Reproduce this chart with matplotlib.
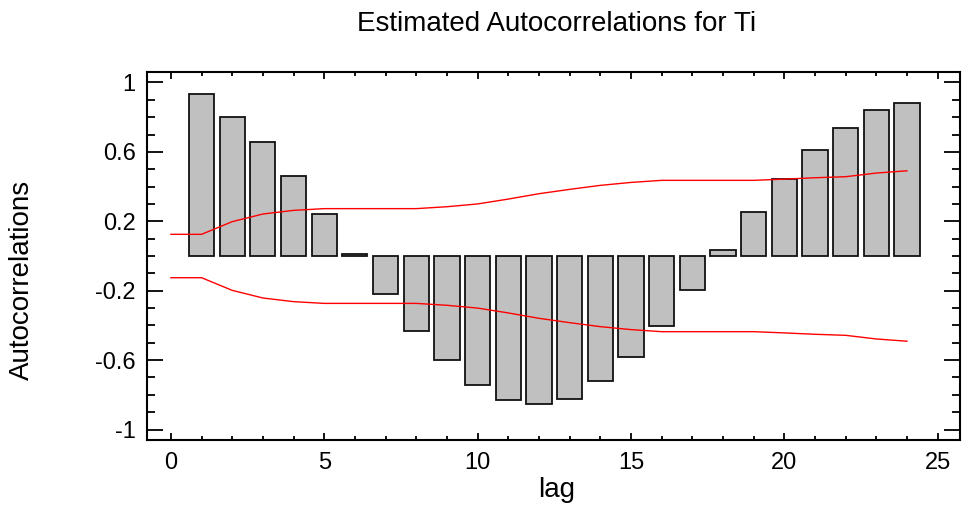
import numpy as np
import matplotlib
matplotlib.use("Agg")
import matplotlib.pyplot as plt
from matplotlib.ticker import MultipleLocator

# autocorrelation estimates, lags 1..24
lags = list(range(1, 25))
acf = [0.935, 0.802, 0.655, 0.463, 0.244, 0.013, -0.218, -0.430,
       -0.602, -0.741, -0.830, -0.855, -0.822, -0.720, -0.583, -0.403,
       -0.193, 0.035, 0.251, 0.445, 0.608, 0.735, 0.839, 0.881]

# probability limits, lags 0..24
limit_lags = list(range(0, 25))
limit = [0.125, 0.125, 0.198, 0.242, 0.263, 0.273, 0.273, 0.273, 0.273,
         0.284, 0.300, 0.328, 0.359, 0.384, 0.407, 0.424, 0.436, 0.436,
         0.436, 0.436, 0.443, 0.451, 0.457, 0.478, 0.491]

plt.rcParams["font.family"] = ["Liberation Sans", "DejaVu Sans"]

fig = plt.figure(figsize=(9.67, 5.11), dpi=100)
ax = fig.add_axes([0.152, 0.139, 0.8408, 0.72])

ax.bar(lags, acf, width=0.82, color="#c0c0c0", edgecolor="#111111", linewidth=1.3, zorder=2)
ax.plot(limit_lags, limit, color="red", linewidth=1.0, zorder=3)
ax.plot(limit_lags, [-v for v in limit], color="red", linewidth=1.0, zorder=3)

ax.set_xlim(-0.78, 25.73)
ax.set_ylim(-1.06, 1.06)
ax.set_xticks([0, 5, 10, 15, 20, 25])
ax.xaxis.set_minor_locator(MultipleLocator(1))
ax.set_yticks([-1, -0.6, -0.2, 0.2, 0.6, 1])
ax.set_yticklabels(["-1", "-0.6", "-0.2", "0.2", "0.6", "1"])
ax.yaxis.set_minor_locator(MultipleLocator(0.1))

ax.tick_params(axis="both", which="both", direction="in", top=True, right=True,
               labelsize=17, width=1.3)
ax.tick_params(axis="x", which="major", length=5, pad=9)
ax.tick_params(axis="x", which="minor", length=3)
ax.tick_params(axis="y", which="major", length=11.5, pad=8)
ax.tick_params(axis="y", which="minor", length=6)
for s in ax.spines.values():
    s.set_linewidth(1.5)

# axis labels and title placed as in the original
fig.text(0.576, 0.0274, "lag", fontsize=20, ha="center", va="baseline")
fig.text(0.023, 0.452, "Autocorrelations", rotation=90, fontsize=20,
         ha="center", va="center")
fig.text(0.576, 0.953, "Estimated Autocorrelations for Ti", fontsize=20,
         ha="center", va="center")

fig.savefig("out.png", dpi=100)
